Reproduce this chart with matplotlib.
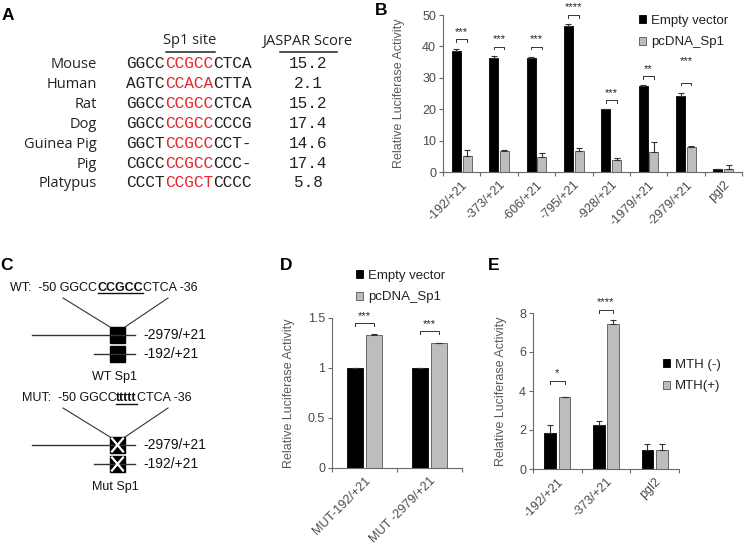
import numpy as np
import matplotlib
matplotlib.use("Agg")
from matplotlib import pyplot as plt
from matplotlib.patches import Rectangle
from matplotlib.transforms import blended_transform_factory

plt.rcParams['font.family'] = ['Liberation Sans', 'DejaVu Sans']

W, H = 745, 543

# ---- data ----
# panel A
species = ['Mouse', 'Human', 'Rat', 'Dog', 'Guinea Pig', 'Pig', 'Platypus']
seq_left = ['GGCC', 'AGTC', 'GGCC', 'GGCC', 'GGCT', 'CGCC', 'CCCT']
seq_site = ['CCGCC', 'CCACA', 'CCGCC', 'CCGCC', 'CCGCC', 'CCGCC', 'CCGCT']
seq_right = ['CTCA', 'CTTA', 'CTCA', 'CCCG', 'CCT-', 'CCC-', 'CCCC']
jaspar = ['15.2', '2.1', '15.2', '17.4', '14.6', '17.4', '5.8']

# panel B
b_labels = ['-192/+21', '-373/+21', '-606/+21', '-795/+21', '-928/+21',
            '-1979/+21', '-2979/+21', 'pgl2']
b_empty = [38.6, 36.4, 36.4, 46.6, 20.0, 27.4, 24.3, 1.0]
b_empty_err = [0.7, 0.4, 0.2, 0.5, 0.1, 0.2, 0.8, 0.1]
b_sp1 = [5.2, 6.8, 4.9, 6.8, 3.8, 6.5, 8.1, 1.1]
b_sp1_err = [1.9, 0.1, 1.3, 0.8, 0.6, 3.1, 0.3, 1.0]
b_sig = ['***', '***', '***', '****', '***', '**', '***', '']
b_brk = [42.2, 39.9, 39.9, 50.0, 22.9, 30.5, 28.4, None]
b_star = [43.0, 40.7, 40.7, 50.8, 23.7, 31.3, 33.8, None]

# panel D
d_labels = ['MUT-192/+21', 'MUT -2979/+21']
d_empty = [1.0, 1.0]
d_empty_err = [0.005, 0.005]
d_sp1 = [1.33, 1.25]
d_sp1_err = [0.01, 0.005]
d_sig = ['***', '***']
d_brk = [1.45, 1.37]
d_star = [1.47, 1.39]

# panel E
e_labels = ['-192/+21', '-373/+21', 'pgl2']
e_minus = [1.85, 2.25, 1.0]
e_minus_err = [0.42, 0.2, 0.3]
e_plus = [3.68, 7.45, 1.0]
e_plus_err = [0.02, 0.17, 0.27]
e_sig = ['*', '****']
e_brk = [4.53, 8.14]
e_star = [4.68, 8.29]

BLACK = '#000000'
GREY = '#bdbdbd'
AXC = '#6a6a6a'
TXT = '#4a4a4a'


def fx(x):
    return x / W


def fy(y):
    return 1 - y / H


fig = plt.figure(figsize=(7.45, 5.43), dpi=100)

# overlay in pixel coordinates for panels A, C and letters
ov = fig.add_axes([0, 0, 1, 1])
ov.set_xlim(0, W)
ov.set_ylim(H, 0)
ov.axis('off')

for letter, (lx, ly) in zip('ABCDE', [(2, 20), (375, 15), (0, 270), (280, 270), (488, 270)]):
    ov.text(lx, ly, letter, fontsize=12.5, fontweight='bold', va='baseline', ha='left')

# ---- panel A ----
sans_a = ['Open Sans', 'DejaVu Sans']
mono = ['Liberation Mono', 'DejaVu Sans Mono']
cw = 9.7  # px per mono char
ov.text(190, 44.5, 'Sp1 site', family=sans_a, fontsize=10.5, ha='center', va='baseline', color='#222')
ov.text(307, 44.5, 'JASPAR Score', family=sans_a, fontsize=10.5, ha='center', va='baseline', color='#222')
ov.plot([166, 215], [52, 52], color='#222', lw=1.1)
ov.plot([280, 337], [52, 52], color='#222', lw=1.1)
for i, sp in enumerate(species):
    yb = 68.5 + i * 19.8
    ov.text(97, yb, sp, family=sans_a, fontsize=10.5, ha='right', va='baseline', color='#222')
    ov.text(126, yb, seq_left[i], family=mono, fontsize=11.6, ha='left', va='baseline', color='#222')
    ov.text(126 + 4 * cw, yb, seq_site[i], family=mono, fontsize=11.6, ha='left', va='baseline',
            color='#e8262d')
    ov.text(126 + 9 * cw, yb, seq_right[i], family=mono, fontsize=11.6, ha='left', va='baseline', color='#222')
    ov.text(308, yb, jaspar[i], family=mono, fontsize=11.6, ha='center', va='baseline', color='#222')

# ---- panel C ----
lc = '#333333'
fs_c = 9
ov.text(10, 290.7, 'WT:  -50 GGCC', fontsize=fs_c, va='baseline', color='#111')
ov.text(98, 290.7, 'CCGCC', fontsize=fs_c, va='baseline', fontweight='bold', color='#111')
ov.text(143, 290.7, 'CTCA -36', fontsize=fs_c, va='baseline', color='#111')
ov.plot([98, 143], [293, 293], color='#111', lw=1)
ov.text(22, 400.7, 'MUT:  -50 GGCC', fontsize=fs_c, va='baseline', color='#111')
ov.text(116, 400.7, 'ttttt', fontsize=fs_c, va='baseline', fontweight='bold', color='#111')
ov.text(137, 400.7, 'CTCA -36', fontsize=fs_c, va='baseline', color='#111')
ov.plot([116, 137], [404, 404], color='#111', lw=1)

for top, mut in [(298, False), (408, True)]:
    y1 = top + 29
    ov.plot([63, 110], [top, y1], color=lc, lw=0.8)
    ov.plot([168, 125], [top, y1], color=lc, lw=0.8)
    long_y = top + 37
    short_y = top + 56
    ov.plot([32, 135], [long_y, long_y], color=lc, lw=1)
    ov.plot([94, 135], [short_y, short_y], color=lc, lw=1)
    for yy in (long_y, short_y):
        ov.add_patch(Rectangle((110, yy - 8), 15, 16, facecolor='black', edgecolor='black'))
        if mut:
            ov.plot([112, 123], [yy - 6.5, yy + 6.5], color='white', lw=1.6)
            ov.plot([112, 123], [yy + 6.5, yy - 6.5], color='white', lw=1.6)
    ov.text(143, long_y + 4, '-2979/+21', fontsize=10, va='baseline', color='#111')
    ov.text(143, short_y + 4, '-192/+21', fontsize=10, va='baseline', color='#111')
    ov.text(115, short_y + 26, 'Mut Sp1' if mut else 'WT Sp1', fontsize=9, ha='center',
            va='baseline', color='#111')


# ---- bar panels ----
def bar_panel(rect, labels, v1, e1, v2, e2, ymax, yticks, yticklabels, off, width, label_x):
    left, top, right, bottom = rect
    ax = fig.add_axes([fx(left), fy(bottom), fx(right - left), (bottom - top) / H])
    n = len(labels)
    x = np.arange(n)
    err_kw = dict(ecolor='#333333', capsize=2, elinewidth=0.8, capthick=0.8)
    b1 = ax.bar(x - off, v1, width, color=BLACK, edgecolor='black', lw=0.6,
                yerr=[np.zeros(n), e1], error_kw=err_kw)
    b2 = ax.bar(x + off, v2, width, color=GREY, edgecolor='#555555', lw=0.6,
                yerr=[np.zeros(n), e2], error_kw=err_kw)
    ax.set_xlim(-0.5, n - 0.5)
    ax.set_ylim(0, ymax)
    ax.set_yticks(yticks)
    ax.set_yticklabels(yticklabels)
    ax.set_xticks(np.arange(n + 1) - 0.5)
    ax.set_xticklabels([])
    ax.set_xticks(x, minor=True)
    ax.set_xticklabels(labels, minor=True, rotation=45, ha='right', rotation_mode='anchor')
    ax.tick_params(axis='x', which='minor', length=0, pad=5, labelsize=9, labelcolor=TXT)
    ax.tick_params(axis='x', which='major', length=3, color=AXC, width=0.8)
    ax.tick_params(axis='y', length=3, color=AXC, width=0.8, labelsize=9, labelcolor=TXT, pad=2)
    for s in ('top', 'right'):
        ax.spines[s].set_visible(False)
    for s in ('left', 'bottom'):
        ax.spines[s].set_color(AXC)
        ax.spines[s].set_linewidth(0.8)
    ax.set_facecolor('none')
    ax.set_ylabel('Relative Luciferase Activity', fontsize=9, color='#5a5a5a')
    ax.yaxis.set_label_coords(fx(label_x), 0.5,
                              transform=blended_transform_factory(fig.transFigure, ax.transAxes))
    return ax, b1, b2


def brackets(ax, sig, brk, star, off, tick):
    for i, (s, yb, ys) in enumerate(zip(sig, brk, star)):
        if not s:
            continue
        ax.plot([i - off, i - off, i + off, i + off], [yb - tick, yb, yb, yb - tick],
                color='#333333', lw=0.7, clip_on=False)
        ax.text(i, ys, s, ha='center', va='bottom', fontsize=8, color='#222', clip_on=False)


leg_kw = dict(loc='upper left', bbox_transform=fig.transFigure, frameon=False,
              handlelength=0.55, handleheight=0.55, handletextpad=0.35, labelspacing=0.7,
              borderpad=0, borderaxespad=0, fontsize=9.5, labelcolor='#222')

# B
axB, bb1, bb2 = bar_panel((443, 15, 742, 172), b_labels, b_empty, b_empty_err, b_sp1, b_sp1_err,
                          50, [0, 10, 20, 30, 40, 50], ['0', '10', '20', '30', '40', '50'],
                          0.145, 0.24, 405)
brackets(axB, b_sig, b_brk, b_star, 0.145, 0.8)
axB.legend([bb1, bb2], ['Empty vector', 'pcDNA_Sp1'], bbox_to_anchor=(fx(639), fy(15)), **leg_kw)

# D
axD, db1, db2 = bar_panel((332, 318, 462, 468), d_labels, d_empty, d_empty_err, d_sp1, d_sp1_err,
                          1.5, [0, 0.5, 1, 1.5], ['0', '0.5', '1', '1.5'], 0.145, 0.24, 295)
brackets(axD, d_sig, d_brk, d_star, 0.145, 0.025)
axD.legend([db1, db2], ['Empty vector', 'pcDNA_Sp1'], bbox_to_anchor=(fx(356), fy(270)), **leg_kw)

# E
axE, eb1, eb2 = bar_panel((533, 313, 679, 469), e_labels, e_minus, e_minus_err, e_plus, e_plus_err,
                          8, [0, 2, 4, 6, 8], ['0', '2', '4', '6', '8'], 0.15, 0.24, 507)
brackets(axE, e_sig, e_brk, e_star, 0.15, 0.15)
axE.legend([eb1, eb2], ['MTH (-)', 'MTH(+)'], bbox_to_anchor=(fx(663), fy(359)), **leg_kw)

fig.savefig('out.png', dpi=100)
